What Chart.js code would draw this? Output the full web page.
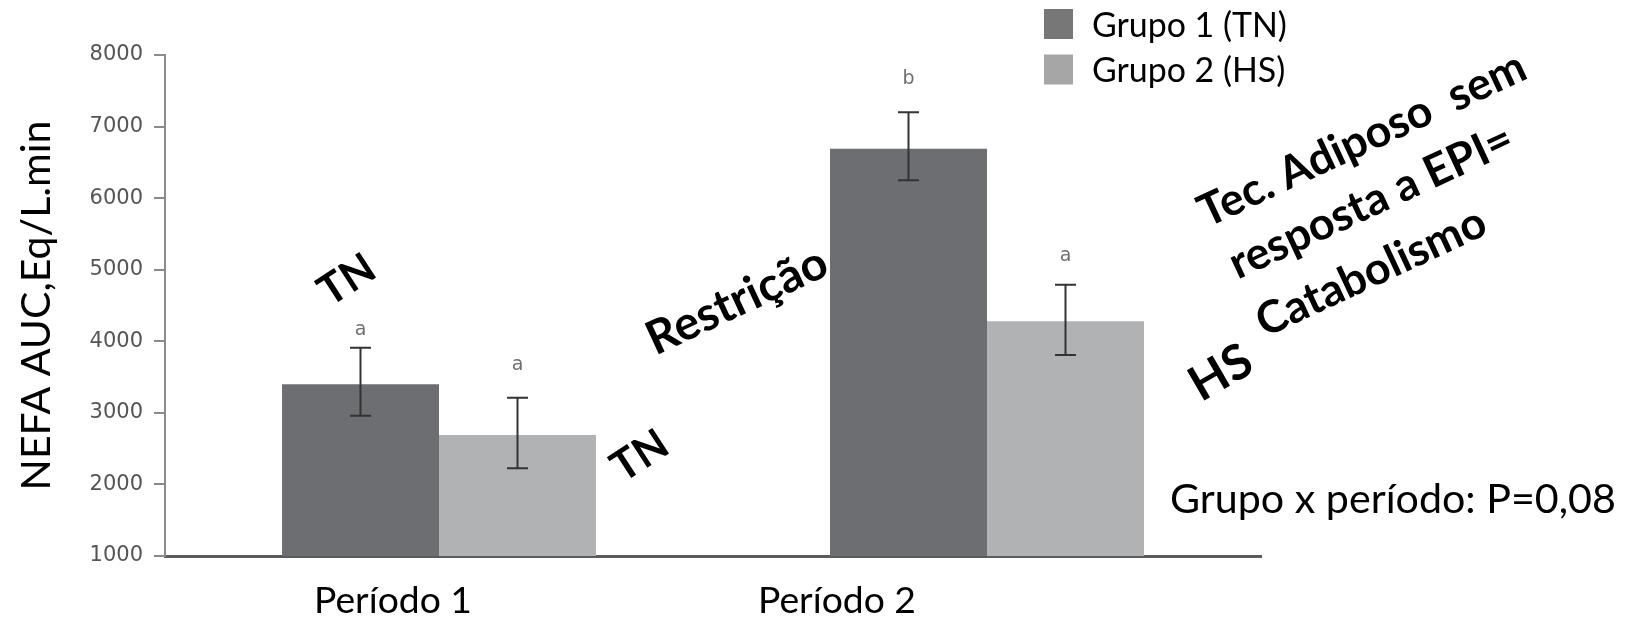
<!DOCTYPE html>
<html><head><meta charset="utf-8">
<script src="https://cdn.jsdelivr.net/npm/chart.js@4.4.1/dist/chart.umd.min.js"></script>
<style>html,body{margin:0;padding:0;background:#fff;overflow:hidden}canvas{display:block}</style>
</head><body>
<canvas id="c" width="1627" height="617"></canvas>
<script>
// ---- data ----
const categories = ['Período 1', 'Período 2'];
const seriesNames = ['Grupo 1 (TN)', 'Grupo 2 (HS)'];
const grupo1 = [3400, 6690];
const grupo2 = [2690, 4280];
const grupo1Hi = [3910, 7200];
const grupo1Lo = [2960, 6250];
const grupo2Hi = [3210, 4790];
const grupo2Lo = [2225, 3810];
const grupo1Sig = ['a', 'b'];
const grupo2Sig = ['a', 'a'];
const grupo1SigAt = [4160, 7670];
const grupo2SigAt = [3670, 5190];
const yTicks = [1000, 2000, 3000, 4000, 5000, 6000, 7000, 8000];
const yTitle = 'NEFA AUC,Eq/L.min';
const interactionNote = 'Grupo x período: P=0,08';

const FONT = 'Lato, "Open Sans", sans-serif';
const measurer = document.createElement('canvas').getContext('2d');
function fitSize(text, weight, target) {
  measurer.font = weight + ' 100px ' + FONT;
  return 100 * target / measurer.measureText(text).width;
}

function build() {
  const titleSize = fitSize(yTitle, 'normal', 370);
  const legendSize = fitSize(seriesNames[0], 'normal', 195);
  const noteSize = fitSize(interactionNote, 'normal', 446);
  const catSize = fitSize(categories[0], 'normal', 158);
  const tnSize = fitSize('TN', 'bold', 58);
  const restSize = fitSize('Restrição', 'bold', 194);
  const hsSize = fitSize('HS', 'bold', 64);
  const tecSize = fitSize('Tec. Adiposo  sem', 'bold', 356);

  function rotText(ctx, text, x, y, deg, size, weight, align, base) {
    ctx.save();
    ctx.translate(x, y);
    ctx.rotate(deg * Math.PI / 180);
    ctx.font = weight + ' ' + size + 'px ' + FONT;
    ctx.fillStyle = '#000';
    ctx.textAlign = align;
    ctx.textBaseline = base;
    ctx.fillText(text, 0, 0);
    ctx.restore();
  }

  const notes = {
    id: 'notes',
    afterDatasetsDraw(chart) {
      const ctx = chart.ctx, y = chart.scales.y;
      chart.data.datasets.forEach((ds, i) => {
        const meta = chart.getDatasetMeta(i);
        meta.data.forEach((bar, j) => {
          const x = bar.x;
          const yh = y.getPixelForValue(ds.hi[j]);
          const yl = y.getPixelForValue(ds.lo[j]);
          ctx.save();
          ctx.strokeStyle = '#333333';
          ctx.lineWidth = 2;
          ctx.beginPath();
          ctx.moveTo(x, yh); ctx.lineTo(x, yl);
          ctx.moveTo(x - 10.5, yh); ctx.lineTo(x + 10.5, yh);
          ctx.moveTo(x - 10.5, yl); ctx.lineTo(x + 10.5, yl);
          ctx.stroke();
          ctx.fillStyle = '#6f6f6f';
          ctx.font = '19px "DejaVu Sans"';
          ctx.textAlign = 'center';
          ctx.textBaseline = 'middle';
          ctx.fillText(ds.sig[j], x, y.getPixelForValue(ds.sigAt[j]));
          ctx.restore();
        });
      });
    },
    afterDraw(chart) {
      const ctx = chart.ctx, xs = chart.scales.x;
      // legend
      const legendColors = ['#777777', '#a6a6a6'];
      chart.data.datasets.forEach((ds, i) => {
        const top = 9 + i * 45.5;
        ctx.fillStyle = legendColors[i];
        ctx.fillRect(1044, top, 29, 30);
        ctx.fillStyle = '#000';
        ctx.font = 'normal ' + legendSize + 'px ' + FONT;
        ctx.textAlign = 'left';
        ctx.textBaseline = 'middle';
        ctx.fillText(ds.label, 1092, top + 17);
      });
      // category labels
      const shift = [-46, -150];
      ctx.font = 'normal ' + catSize + 'px ' + FONT;
      ctx.fillStyle = '#000';
      ctx.textAlign = 'center';
      ctx.textBaseline = 'alphabetic';
      chart.data.labels.forEach((lab, j) => {
        ctx.fillText(lab, xs.getPixelForValue(j) + shift[j], 613);
      });
      // interaction note
      ctx.textAlign = 'left';
      ctx.font = 'normal ' + noteSize + 'px ' + FONT;
      ctx.fillText(interactionNote, 1170, 513);
      // rotated annotations
      rotText(ctx, 'TN', 347, 280, -33, tnSize, 'bold', 'center', 'middle');
      rotText(ctx, 'TN', 640, 456, -33, tnSize, 'bold', 'center', 'middle');
      rotText(ctx, 'Restrição', 737, 301, -25, restSize, 'bold', 'center', 'middle');
      rotText(ctx, 'HS', 1221, 373, -30, hsSize, 'bold', 'center', 'middle');
      ctx.save();
      ctx.translate(1207, 228);
      ctx.rotate(-25 * Math.PI / 180);
      ctx.font = 'bold ' + tecSize + 'px ' + FONT;
      ctx.fillStyle = '#000';
      ctx.textAlign = 'left';
      ctx.textBaseline = 'alphabetic';
      ctx.fillText('Tec. Adiposo  sem', 0, 0);
      ctx.fillText('resposta a EPI=', 6, 60);
      ctx.fillText('Catabolismo', 6, 124);
      ctx.restore();
    }
  };

  new Chart(document.getElementById('c'), {
    type: 'bar',
    data: {
      labels: categories,
      datasets: [
        { label: seriesNames[0], data: grupo1, backgroundColor: '#6d6e71', hi: grupo1Hi, lo: grupo1Lo, sig: grupo1Sig, sigAt: grupo1SigAt,
          categoryPercentage: 0.573, barPercentage: 1.0 },
        { label: seriesNames[1], data: grupo2, backgroundColor: '#b1b2b4', hi: grupo2Hi, lo: grupo2Lo, sig: grupo2Sig, sigAt: grupo2SigAt,
          categoryPercentage: 0.573, barPercentage: 1.0 }
      ]
    },
    options: {
      responsive: false,
      animation: false,
      devicePixelRatio: 1,
      layout: { padding: { left: 0, right: 366, top: 55, bottom: 0 } },
      plugins: { legend: { display: false }, tooltip: { enabled: false } },
      scales: {
        x: {
          grid: { display: false },
          border: { display: true, color: '#5b5b5b', width: 3 },
          ticks: { display: false },
          afterFit(s) { s.height = 61; }
        },
        y: {
          min: yTicks[0], max: yTicks[yTicks.length - 1],
          afterBuildTicks(s) { s.ticks = yTicks.map(v => ({ value: v })); },
          ticks: { padding: 11, color: '#555', font: { family: 'DejaVu Sans', size: 21 },
                   callback: v => String(v) },
          grid: { drawOnChartArea: false, drawTicks: true, tickLength: 11, color: '#8a8a8a', lineWidth: 2 },
          border: { display: true, color: '#8a8a8a', width: 2 },
          title: { display: true, text: yTitle, color: '#000',
                   font: { family: FONT, size: titleSize, lineHeight: 1.2 },
                   padding: { top: 37 - titleSize * 0.6, bottom: 0 } },
          afterFit(s) { s.width = 165; }
        }
      }
    },
    plugins: [notes]
  });
}

Promise.all([
  document.fonts.load('16px Lato'),
  document.fonts.load('bold 16px Lato'),
  document.fonts.load('16px "DejaVu Sans"')
]).catch(() => {}).then(build);
</script>
</body></html>
